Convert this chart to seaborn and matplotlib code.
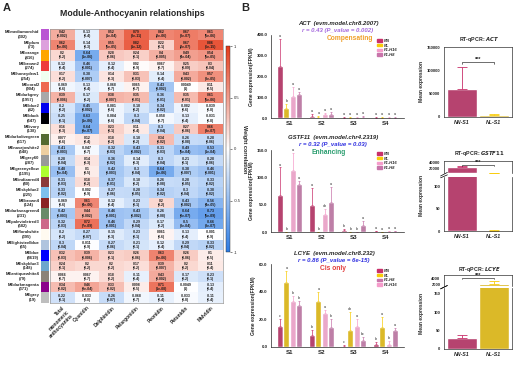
import numpy as np
import pandas as pd
import seaborn as sns
import matplotlib.pyplot as plt
from matplotlib.colors import LinearSegmentedColormap, ListedColormap
from matplotlib.patches import Patch
from matplotlib.ticker import FormatStrFormatter

sns.set_style("white")
plt.rcParams['font.family'] = ['Liberation Sans', 'DejaVu Sans']
plt.rcParams['font.weight'] = 'bold'
plt.rcParams['axes.labelweight'] = 'bold'

W, H = 520, 379

# ---- panel A data ----
modules = ["MEmediumorchid", "MEplum", "MEorange", "MEbrown2", "MEhoneydew1", "MEcoral2",
           "MEdarkgrey", "MEblue2", "MEblack", "MEivory", "MEdarkolivegreen", "MEnavajowhite2",
           "MEgrey60", "MEgreenyellow", "MEindianred4", "MEskyblue2", "MEbrown4",
           "MEdarkseagreen4", "MEpalevioletred3", "MEfloralwhite", "MElightsteelblue", "MEblue",
           "MEskyblue3", "MEantiquewhite4", "MEdarkmagenta", "MEgrey"]
module_sizes = [302, 73, 416, 274, 254, 904, 1957, 42, 647, 138, 617, 548, 287, 1195, 80, 225,
                124, 231, 582, 395, 65, 8619, 148, 79, 371, 19]
module_colors = ["#BA55D3", "#DDA0DD", "#FFA500", "#EE3B3B", "#F0FFF0", "#EE6A50", "#A9A9A9",
                 "#0000EE", "#000000", "#FFFFF0", "#556B2F", "#EECFA1", "#999999", "#ADFF2F",
                 "#8B3A3A", "#7EC0EE", "#8B2323", "#698B69", "#CD6889", "#FFFAF0", "#B0C4DE",
                 "#0000FF", "#6CA6CD", "#8B8378", "#8B008B", "#BEBEBE"]
traits = ["Total\nmonomeric\nanthocyanins", "Cyanidin", "Delphinidin", "Pelargonidin",
          "Peonidin", "Petunidin", "Malvidin"]

cor = [
    [0.42, -0.13, 0.52, 0.79, 0.62, 0.67, 0.61],
    [0.62, -0.14, 0.55, 0.82, 0.22, 0.67, 0.86],
    [0.2, -0.64, 0.28, 0.24, 0.4, 0.49, 0.54],
    [-0.12, -0.46, -0.12, 0.02, 0.067, 0.25, 0.3],
    [0.17, -0.38, 0.14, 0.31, -0.14, 0.43, 0.57],
    [-0.069, -0.13, -0.068, 0.065, -0.43, 0.0049, 0.11],
    [0.39, -0.17, 0.38, 0.35, -0.36, 0.35, 0.61],
    [-0.2, -0.45, -0.081, -0.18, -0.34, -0.082, -0.039],
    [-0.25, -0.63, -0.084, -0.3, -0.058, -0.13, -0.031],
    [0.16, -0.64, 0.23, 0.11, -0.3, 0.27, 0.66],
    [0.077, 0.12, 0.18, -0.18, 0.34, -0.26, -0.28],
    [-0.41, -0.047, -0.32, -0.43, -0.31, -0.49, -0.53],
    [-0.28, 0.14, -0.36, -0.14, -0.3, -0.21, -0.28],
    [-0.48, 0.1, -0.42, -0.3, -0.64, -0.38, -0.46],
    [-0.31, 0.18, -0.37, -0.18, -0.26, -0.28, -0.33],
    [-0.33, -0.002, -0.27, -0.28, -0.34, -0.3, -0.38],
    [-0.069, 0.61, -0.12, -0.23, 0.2, -0.43, -0.56],
    [-0.42, 0.44, -0.46, -0.43, -0.26, -0.64, -0.73],
    [-0.32, 0.72, -0.46, -0.29, -0.17, -0.5, -0.66],
    [-0.2, -0.27, -0.15, -0.23, 0.061, -0.13, -0.001],
    [-0.3, -0.011, -0.27, -0.21, -0.12, -0.29, -0.33],
    [0.32, 0.39, 0.23, 0.26, 0.63, 0.26, 0.1],
    [0.24, 0.2, 0.2, 0.17, 0.39, 0.2, 0.11],
    [0.066, 0.067, 0.18, -0.11, 0.43, -0.17, -0.23],
    [0.34, 0.46, 0.33, 0.098, 0.71, -0.0049, -0.13],
    [-0.22, -0.033, -0.26, -0.068, -0.11, -0.033, -0.11],
]
pvals = [
    ["0.002", "0.4", "1e-04", "3e-11", "2e-06", "3e-07", "5e-06"],
    ["5e-06", "0.3", "5e-05", "1e-12", "0.1", "2e-07", "6e-15"],
    ["0.2", "1e-06", "0.06", "0.1", "0.005", "4e-04", "5e-05"],
    ["0.4", "0.001", "0.4", "0.9", "0.7", "0.09", "0.04"],
    ["0.2", "0.007", "0.3", "0.03", "0.4", "0.002", "3e-05"],
    ["0.6", "0.4", "0.7", "0.7", "0.002", "1", "0.5"],
    ["0.006", "0.2", "0.007", "0.01", "0.01", "0.01", "5e-06"],
    ["0.2", "0.002", "0.6", "0.2", "0.02", "0.6", "0.8"],
    ["0.1", "1e-06", "0.6", "0.04", "0.7", "0.4", "0.8"],
    ["0.3", "9e-07", "0.1", "0.4", "0.04", "0.06", "3e-07"],
    ["0.6", "0.4", "0.2", "0.2", "0.02", "0.08", "0.06"],
    ["0.003", "0.7", "0.03", "0.002", "0.03", "5e-04", "1e-04"],
    ["0.04", "0.3", "0.02", "0.3", "0.04", "0.1", "0.06"],
    ["5e-04", "0.5", "0.003", "0.04", "1e-06", "0.007", "0.001"],
    ["0.03", "0.2", "0.01", "0.2", "0.08", "0.05", "0.02"],
    ["0.02", "0.9", "0.06", "0.05", "0.02", "0.04", "0.02"],
    ["0.6", "4e-06", "0.4", "0.1", "0.2", "0.002", "4e-05"],
    ["0.003", "0.002", "0.001", "0.002", "0.08", "8e-07", "5e-09"],
    ["0.03", "7e-09", "0.001", "0.04", "0.2", "3e-04", "3e-07"],
    ["0.2", "0.07", "0.3", "0.1", "0.6", "0.4", "0.9"],
    ["0.04", "0.9", "0.06", "0.1", "0.4", "0.04", "0.02"],
    ["0.03", "0.006", "0.1", "0.06", "3e-06", "0.06", "0.5"],
    ["0.1", "0.2", "0.2", "0.2", "0.007", "0.2", "0.4"],
    ["0.7", "0.7", "0.2", "0.4", "0.002", "0.2", "0.1"],
    ["0.02", "9e-04", "0.02", "0.5", "1e-08", "1", "0.4"],
    ["0.1", "0.8", "0.07", "0.7", "0.4", "0.8", "0.4"],
]

# ---- panel B data ----
stages = ["S1", "S2", "S3", "S4"]
genos = ["NN", "NL", "F1-H16", "F1-H8"]
geno_colors = {"NN": "#c9306a", "NL": "#f9cc0a", "F1-H16": "#f59ccb", "F1-H8": "#c874aa"}

act_mean = {"NN": [252, 10, 2, 2], "NL": [48, 5, 2, 2], "F1-H16": [108, 18, 2, 2], "F1-H8": [118, 20, 5, 2]}
act_err = {"NN": [128, 8, 1, 1], "NL": [20, 3, 1, 1], "F1-H16": [40, 4, 1, 1], "F1-H8": [8, 8, 3, 1]}
act_letters = {"NN": ["a", "a", "a", "a"], "NL": ["b", "a", "a", "a"],
               "F1-H16": ["a", "a", "a", "a"], "F1-H8": ["a", "a", "a", "a"]}

gst_mean = {"NN": [68, 50, 3, 1], "NL": [0.5, 0.5, 0.5, 0.3], "F1-H16": [113, 33, 0.5, 1], "F1-H8": [88, 54, 12, 1]}
gst_err = {"NN": [50, 30, 2, 0.5], "NL": [0.3, 0.3, 0.3, 0.2], "F1-H16": [32, 9, 0.3, 0.5], "F1-H8": [6, 29, 8, 0.5]}
gst_letters = {"NN": ["a", "a", "b", "a"], "NL": ["b", "b", "b", "a"],
               "F1-H16": ["a", "ab", "b", "a"], "F1-H8": ["a", "a", "a", "a"]}

lcy_mean = {"NN": [15, 9, 0.8, 2], "NL": [47, 33, 12, 14.5], "F1-H16": [33.5, 24.5, 15.5, 2], "F1-H8": [30.5, 14.5, 5, 12]}
lcy_err = {"NN": [5, 3, 0.7, 1.5], "NL": [8, 7, 13, 7.5], "F1-H16": [3.5, 2.5, 4.5, 2], "F1-H8": [2.5, 5.5, 2, 2]}
lcy_letters = {"NN": ["c", "b", "c", "b"], "NL": ["a", "a", "ab", "a"],
               "F1-H16": ["b", "a", "a", "b"], "F1-H8": ["b", "b", "bc", "a"]}

qpcr_samples = ["NN-S1", "NL-S1"]
qpcr_colors = ["#c9306a", "#f9cc0a"]
act_qpcr = [61000, 4000]
act_qpcr_err = [46000, 2000]
gst_qpcr = [25000, 1.0]
gst_qpcr_err = [4000, 0.5]
lcy_qpcr = [30, 2100]
lcy_qpcr_err = [7, 1300]


def px_axes(fig, x0, y0, x1, y1):
    return fig.add_axes([x0 / W, 1 - y1 / H, (x1 - x0) / W, (y1 - y0) / H])


def ftext(fig, x, y, s, **kw):
    return fig.text(x / W, 1 - y / H, s, **kw)


fig = plt.figure(figsize=(W / 100, H / 100), dpi=100)

# ---------------- panel A: module-trait heatmap ----------------
ftext(fig, 3, 8, "A", fontsize=8, fontweight="bold", va="center")
ftext(fig, 132, 14, "Module-Anthocyanin relationships", fontsize=6.3, fontweight="bold",
      ha="center", va="center")

cor_df = pd.DataFrame(cor, index=modules, columns=traits)
annot = np.array([[f"{r:g}\n({p})" for r, p in zip(rr, pp)] for rr, pp in zip(cor, pvals)])
cmap = LinearSegmentedColormap.from_list("bwr", ["#2b7be4", "#ffffff", "#e53b1b"])

ax_hm = px_axes(fig, 50, 29, 223, 303)
cax = px_axes(fig, 226, 46, 230, 252)
sns.heatmap(cor_df, annot=annot, fmt="", cmap=cmap, vmin=-1, vmax=1, ax=ax_hm, cbar_ax=cax,
            yticklabels=False, annot_kws={"fontsize": 2.55, "color": "#1a1a1a", "linespacing": 1.1},
            cbar_kws={"ticks": [-1, -0.5, 0, 0.5, 1]})
ax_hm.set_xticklabels(traits, rotation=45, ha="right", rotation_mode="anchor", fontsize=3.5)
ax_hm.tick_params(axis="x", length=0, pad=1.5)
for sp in ax_hm.spines.values():
    sp.set_visible(True)
    sp.set_color("#999999")
    sp.set_linewidth(0.5)

cax.set_yticklabels(["-1", "-0.5", "0", "0.5", "1"], fontweight="normal")
cax.tick_params(labelsize=3, length=1.5, width=0.4, pad=1)
cax.set_ylabel("Weight correlation", rotation=270, fontsize=4, labelpad=5)
ax_hm.collections[0].colorbar.outline.set_linewidth(0.3)

# module colour strip with labels
row_labels = [f"{m}\n({n})" for m, n in zip(modules, module_sizes)]
ax_strip = px_axes(fig, 41, 29, 48.5, 303)
sns.heatmap(np.arange(len(modules)).reshape(-1, 1), cmap=ListedColormap(module_colors),
            vmin=-0.5, vmax=len(modules) - 0.5, cbar=False, ax=ax_strip,
            xticklabels=False, yticklabels=row_labels)
ax_strip.tick_params(axis="y", length=0, pad=1, labelsize=3.0)
for t in ax_strip.get_yticklabels():
    t.set_rotation(0)
    t.set_multialignment("center")

# ---------------- panel B ----------------
ftext(fig, 241, 8, "B", fontsize=8, fontweight="bold", va="center")


def expr_panel(ax, means, errs, letters, ymax, ystep, legend_order, legend_top):
    rows = [{"stage": s, "geno": g, "value": v}
            for g in genos for s, v in zip(stages, means[g])]
    df = pd.DataFrame(rows)
    sns.barplot(data=df, x="stage", y="value", hue="geno", order=stages, hue_order=genos,
                palette=geno_colors, errorbar=None, width=0.8, gap=0.06, ax=ax, legend=False)
    for g, cont in zip(genos, ax.containers):
        for bar, e, lt in zip(cont, errs[g], letters[g]):
            x = bar.get_x() + bar.get_width() / 2
            h = bar.get_height()
            ax.errorbar(x, h, yerr=[[0], [e]], color=geno_colors[g], lw=0.5,
                        capsize=1.0, capthick=0.5)
            ax.text(x, h + e + ymax * 0.012, lt, ha="center", va="bottom",
                    fontsize=2.6, fontweight="normal")
    ax.set_ylim(0, ymax)
    ax.set_yticks(np.arange(0, ymax + 0.1, ystep))
    ax.yaxis.set_major_formatter(FormatStrFormatter("%.1f"))
    ax.set_xlabel("")
    ax.set_ylabel("Gene expression(FPKM)", fontsize=3.6, labelpad=2)
    ax.tick_params(axis="y", labelsize=3.2, length=1.5, width=0.4, pad=1)
    ax.tick_params(axis="x", labelsize=4.4, length=1.5, width=0.4, pad=1)
    for lab in ax.get_yticklabels() + ax.get_xticklabels():
        lab.set_fontweight("bold")
    sns.despine(ax=ax)
    for sp in ["left", "bottom"]:
        ax.spines[sp].set_linewidth(0.5)
    handles = [Patch(color=geno_colors[g]) for g in legend_order]
    ax.legend(handles, legend_order, loc="upper left", frameon=False,
              prop={"size": 3, "style": "italic", "weight": "bold"},
              handlelength=1.2, handleheight=0.55, labelspacing=0.15, handletextpad=0.5,
              borderaxespad=0, borderpad=0,
              bbox_to_anchor=(377 / W, 1 - legend_top / H), bbox_transform=fig.transFigure)


headers = [
    (23, 338, "ACT  (evm.model.chr8.2007)", "r = 0.43 (P_value = 0.002)", "#a467dd",
     350, "Compensating", "#f0a02a"),
    (137, 333, "GSTF11  (evm.model.chr4.2319)", "r = 0.32 (P_value = 0.03)", "#2d2de0",
     329, "Enhancing", "#2a9d6f"),
    (253, 334, "LCYE  (evm.model.chr8.232)", "r = 0.86 (P_value = 6e-15)", "#2d2de0",
     333, "Cis only", "#e23b3b"),
]
for y, xc, gene, rline, rcol, xcat, cat, ccol in headers:
    ftext(fig, xc, y, gene, fontsize=4.3, fontweight="bold", style="italic", ha="center", va="center")
    ftext(fig, xc, y + 7.5, rline, fontsize=4.3, fontweight="bold", style="italic",
          color=rcol, ha="center", va="center")
    ftext(fig, xcat, y + 16, cat, fontsize=4.8, fontweight="bold", color=ccol,
          ha="center", va="center")

ax1 = px_axes(fig, 271, 35, 404, 118)
expr_panel(ax1, act_mean, act_err, act_letters, 400, 100, genos, 39)
ax2 = px_axes(fig, 271, 150, 404, 232)
expr_panel(ax2, gst_mean, gst_err, gst_letters, 150, 50, genos, 152)
ax3 = px_axes(fig, 271, 264, 404, 347)
expr_panel(ax3, lcy_mean, lcy_err, lcy_letters, 60, 20, ["NN", "NL", "F1-H8", "F1-H16"], 269)


# ---------------- RT-qPCR panels ----------------
def qpcr_bars(ax, vals, errs):
    df = pd.DataFrame({"sample": qpcr_samples, "value": vals})
    sns.barplot(data=df, x="sample", y="value", hue="sample", palette=qpcr_colors,
                errorbar=None, width=0.95, ax=ax, legend=False)
    for cont, e, c in zip(ax.containers, errs, qpcr_colors):
        for bar in cont:
            x = bar.get_x() + bar.get_width() / 2
            ax.errorbar(x, bar.get_height(), yerr=[[0], [e]], color=c, lw=0.6,
                        capsize=3.5, capthick=0.6)
    ax.set_xlabel("")
    ax.set_ylabel("")
    ax.tick_params(axis="both", labelsize=3.0, length=1.5, width=0.4, pad=1)
    for sp in ax.spines.values():
        sp.set_linewidth(0.5)
        sp.set_color("#333333")


def style_xlabels(ax):
    ax.set_xticks([0, 1])
    ax.set_xticklabels(qpcr_samples, fontsize=3.8, fontweight="bold", style="italic")


def bracket(ax, y, d):
    ax.plot([0, 0, 1, 1], [y - d, y, y, y - d], color="black", lw=0.4)
    ax.text(0.5, y, "***", ha="center", va="bottom", fontsize=4, fontweight="bold")


def break_marks(ax_top, ax_bot):
    kw = dict(color="black", lw=0.5, clip_on=False)
    ax_top.plot([-0.05, 0.05], [-0.25, 0.05], transform=ax_top.transAxes, **kw)
    ax_bot.plot([-0.05, 0.05], [0.985, 1.04], transform=ax_bot.transAxes, **kw)


qtitles = [(39, "ACT"), (154, "GSTF11"), (269, "LCYE")]
for y, g in qtitles:
    ftext(fig, 479, y, "RT-qPCR: " + r"$\mathbf{\it{" + g + "}}$", fontsize=3.8,
          fontweight="bold", ha="center", va="center")
for yc in [82, 196, 313]:
    ftext(fig, 421, yc, "Mean expression", fontsize=3.6, fontweight="bold", rotation=90,
          ha="center", va="center")

# ACT
axq1 = px_axes(fig, 444, 47, 512, 117)
qpcr_bars(axq1, act_qpcr, act_qpcr_err)
axq1.set_ylim(0, 150000)
axq1.set_yticks([0, 50000, 100000, 150000])
bracket(axq1, 118000, 5000)
style_xlabels(axq1)

# GSTF11 (broken axis)
axq2t = px_axes(fig, 444, 161, 512, 173)
axq2b = px_axes(fig, 444, 177, 512, 231)
qpcr_bars(axq2t, gst_qpcr, gst_qpcr_err)
qpcr_bars(axq2b, gst_qpcr, gst_qpcr_err)
axq2t.set_ylim(0, 48000)
axq2t.set_yticks([20000, 40000])
axq2t.set_xticks([])
axq2t.spines["bottom"].set_visible(False)
axq2b.spines["top"].set_visible(False)
axq2b.set_ylim(0, 120)
axq2b.set_yticks([0, 50, 100])
bracket(axq2t, 33000, 4000)
style_xlabels(axq2b)
break_marks(axq2t, axq2b)

# LCYE (broken axis)
axq3t = px_axes(fig, 444, 275, 512, 286)
axq3b = px_axes(fig, 444, 288, 512, 349)
qpcr_bars(axq3t, lcy_qpcr, lcy_qpcr_err)
qpcr_bars(axq3b, lcy_qpcr, lcy_qpcr_err)
axq3t.set_ylim(1200, 5600)
axq3t.set_yticks([2000, 4000])
axq3t.set_xticks([])
axq3t.spines["bottom"].set_visible(False)
axq3b.spines["top"].set_visible(False)
axq3b.set_ylim(0, 165)
axq3b.set_yticks([0, 50, 100, 150])
bracket(axq3t, 4300, 400)
style_xlabels(axq3b)
break_marks(axq3t, axq3b)

for a in [axq1, axq2t, axq2b, axq3t, axq3b]:
    for lab in a.get_yticklabels():
        lab.set_fontweight("bold")

fig.savefig("out.png", dpi=100)
